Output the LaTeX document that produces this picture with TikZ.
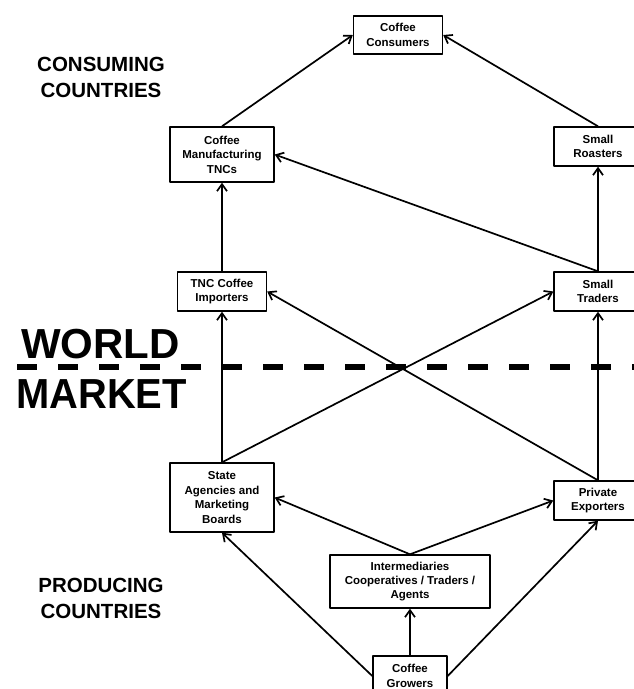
\documentclass[tikz,border=0pt]{standalone}
\usepackage{fontspec}
\setmainfont{Liberation Sans}
\usetikzlibrary{arrows.meta}
\tikzset{
  chainbox/.style={draw, line width=1.4pt, align=center, inner sep=2pt, font=\bfseries\fontsize{11.5}{14.4}\selectfont},
  flow/.style={line width=1.7pt, -{Straight Barb[length=7pt, width=10pt]}},
  region/.style={align=center, font=\bfseries\fontsize{20.5}{26}\selectfont},
  market/.style={inner sep=0pt, anchor=base west, font=\bfseries\fontsize{42}{42}\selectfont}
}
\begin{document}
\begin{tikzpicture}[x=1pt, y=-1pt, line join=round]
  \useasboundingbox (0,0) rectangle (634,689);
  \coordinate (dashstart) at (17,367);
  \coordinate (dashend) at (640,367);
  % the chain
  \node[chainbox, minimum width=89pt, minimum height=38pt] (consumers) at (398,35) {Coffee\\Consumers};
  \node[chainbox, minimum width=104pt, minimum height=55pt] (tncs) at (222,154.5) {Coffee\\Manufacturing\\TNCs};
  \node[chainbox, minimum width=88pt, minimum height=39pt] (roasters) at (598,146.5) {Small\\Roasters};
  \node[chainbox, minimum width=89pt, minimum height=39pt] (importers) at (222,291.5) {TNC Coffee\\Importers};
  \node[chainbox, minimum width=88pt, minimum height=39pt] (traders) at (598,291.5) {Small\\Traders};
  \node[chainbox, minimum width=104pt, minimum height=69pt] (state) at (222,497.5) {State\\Agencies and\\Marketing\\Boards};
  \node[chainbox, minimum width=88pt, minimum height=39pt] (exporters) at (598,500.5) {Private\\Exporters};
  \node[chainbox, minimum width=160pt, minimum height=53pt] (intermed) at (410,581.5) {Intermediaries\\Cooperatives / Traders /\\Agents};
  \node[chainbox, minimum width=74pt, minimum height=40pt] (growers) at (410,676) {Coffee\\Growers};
  % side labels
  \node[region] (consuming) at (101,77) {CONSUMING\\COUNTRIES};
  \node[region] (producing) at (101,598) {PRODUCING\\COUNTRIES};
  \node[market] (world) at (21,358) {WORLD};
  \node[market] (marketlbl) at (16,408) {\scalebox{0.95}[1]{MARKET}};
  \draw[line width=6pt, dash pattern=on 20pt off 21pt] (dashstart) -- (dashend);
  % flows
  \draw[flow] (tncs.north) -- (consumers.west);
  \draw[flow] (roasters.north) -- (consumers.east);
  \draw[flow] (traders.north) -- (tncs.east);
  \draw[flow] (traders.north) -- (roasters.south);
  \draw[flow] (importers.north) -- (tncs.south);
  \draw[flow] (state.north) -- (importers.south);
  \draw[flow] (state.north) -- (traders.west);
  \draw[flow] (exporters.north) -- (importers.east);
  \draw[flow] (exporters.north) -- (traders.south);
  \draw[flow] (intermed.north) -- (state.east);
  \draw[flow] (intermed.north) -- (exporters.west);
  \draw[flow] (growers.west) -- (state.south);
  \draw[flow] (growers.north) -- (intermed.south);
  \draw[flow] (growers.east) -- (exporters.south);
\end{tikzpicture}
\end{document}
